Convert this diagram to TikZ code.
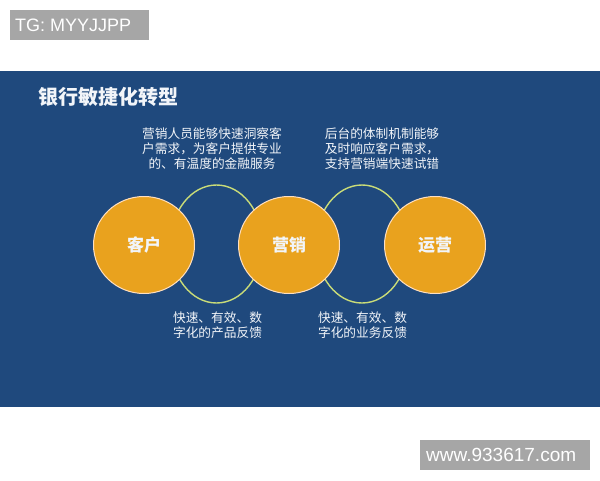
\documentclass[tikz,border=0pt]{standalone}
\usepackage{fontspec}
\setmainfont{Liberation Sans}
\newfontfamily\cjk{Noto Sans CJK SC}
\usetikzlibrary{shapes.geometric}
\definecolor{bandblue}{HTML}{1F497D}
\definecolor{orangefill}{HTML}{E9A21E}
\definecolor{ringgreen}{HTML}{C9DC78}
\definecolor{markgray}{HTML}{A6A6A6}
\definecolor{textwhite}{HTML}{F2F5F9}
\tikzset{
  ring/.style={ellipse, draw=ringgreen, line width=1.4pt, minimum width=92pt, minimum height=118pt, inner sep=0pt},
  ball/.style={ellipse, fill=orangefill, draw=orange!25!white, line width=1pt, minimum width=101pt, minimum height=97pt, inner sep=0pt,
    text=textwhite, font=\cjk\bfseries\fontsize{17}{20}\selectfont},
  note/.style={align=center, text=textwhite, inner sep=0pt, font=\cjk\fontsize{12.7}{15}\selectfont},
  mark/.style={fill=markgray, text=white, inner sep=0pt, anchor=west}
}
\begin{document}
\begin{tikzpicture}[x=1pt,y=-1pt]
\useasboundingbox (0,0) rectangle (600,480);
\fill[white] (0,0) rectangle (600,480);
% watermark top
\fill[markgray] (10,10) rectangle (149,40);
\node[anchor=west, text=white, inner sep=0pt, font=\fontsize{18}{20}\selectfont] (tg) at (15,25) {TG: MYYJJPP};
% blue band
\fill[bandblue] (0,71) rectangle (600,407);
\node[anchor=west, text=textwhite, inner sep=0pt, font=\cjk\bfseries\fontsize{20}{24}\selectfont] (title) at (38,97) {银行敏捷化转型};
% rings
\node[ring] (r1) at (216.5,244) {};
\node[ring] (r2) at (362,244) {};
% balls
\node[ball] (kehu) at (144,245) {客户};
\node[ball] (yingxiao) at (289,245) {营销};
\node[ball] (yunying) at (435,245) {运营};
% notes
\node[note] (n1) at (212,149) {营销人员能够快速洞察客\\户需求，为客户提供专业\\的、有温度的金融服务};
\node[note] (n2) at (382,149) {后台的体制机制能够\\及时响应客户需求，\\支持营销端快速试错};
\node[note] (n3) at (217.5,325.5) {快速、有效、数\\字化的产品反馈};
\node[note] (n4) at (362.5,325.5) {快速、有效、数\\字化的业务反馈};
% watermark bottom
\fill[markgray] (420,440) rectangle (590,470);
\node[anchor=west, text=white, inner sep=0pt, font=\fontsize{19}{21}\selectfont] (www) at (426,455) {www.933617.com};
\end{tikzpicture}
\end{document}
